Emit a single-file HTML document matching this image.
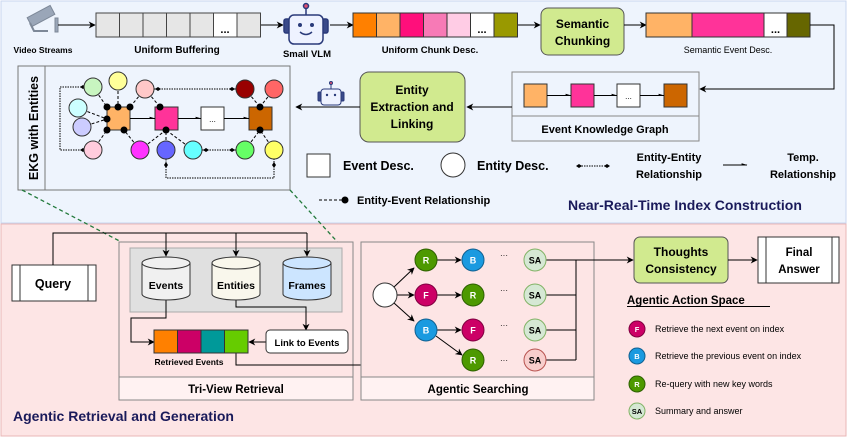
<!DOCTYPE html>
<html><head><meta charset="utf-8"><style>
html,body{margin:0;padding:0;background:#fff}
svg{display:block;font-family:"Liberation Sans",sans-serif}
.b{font-weight:bold}
</style></head><body>
<svg width="847" height="437" viewBox="0 0 847 437" xmlns="http://www.w3.org/2000/svg">
<defs>
<marker id="a" viewBox="0 0 10 10" refX="9" refY="5" markerWidth="7" markerHeight="7" orient="auto"><path d="M0,0 L10,5 L0,10 L3,5 z" fill="#000"/></marker>
<marker id="t" viewBox="0 0 10 10" refX="9" refY="5" markerWidth="6" markerHeight="6" orient="auto"><path d="M0,2 L10,5 L0,5 z" fill="#000"/></marker>
</defs>
<rect x="1" y="1" width="845" height="222" fill="#eef4fd" stroke="#c8d6ef"/>
<rect x="1" y="224" width="845" height="212" fill="#fde5e5" stroke="#e9b7b7"/>

<g fill="#9aa6b8" stroke="#7d8898" stroke-width="1">
<rect x="28" y="11" width="26" height="10" transform="rotate(-28 41 16)"/>
<path d="M30,23 l4,8 l14,0" fill="none" stroke-width="2"/>
<rect x="55" y="18" width="3" height="14"/>
</g>
<line x1="58" y1="25" x2="95" y2="25" stroke="#000" marker-end="url(#a)"/>
<g stroke="#444" fill="#e6e6e6">
<rect x="96" y="13" width="23.5" height="24"/><rect x="119.5" y="13" width="23.5" height="24"/><rect x="143" y="13" width="23.5" height="24"/><rect x="166.5" y="13" width="23.5" height="24"/><rect x="190" y="13" width="23.5" height="24"/><rect x="213.5" y="13" width="23.5" height="24" fill="#fff"/><rect x="237" y="13" width="23.5" height="24"/>
</g>
<text x="225" y="33" font-size="11" class="b" text-anchor="middle">...</text>
<text x="43" y="53" font-size="8.5" class="b" text-anchor="middle">Video Streams</text>
<text x="177" y="53" font-size="10" class="b" text-anchor="middle">Uniform Buffering</text>
<line x1="261" y1="25" x2="283" y2="25" stroke="#000" marker-end="url(#a)"/>
<g stroke="#2a3a7a" stroke-width="1.5">
<line x1="306" y1="7" x2="306" y2="15"/><circle cx="306" cy="6" r="2.5" fill="#e05070"/>
<rect x="284" y="19" width="6" height="14" rx="2" fill="#3a4a8a"/><rect x="322" y="19" width="6" height="14" rx="2" fill="#3a4a8a"/>
<rect x="289" y="15" width="34" height="29" rx="5" fill="#eef2ff"/>
</g>
<circle cx="300" cy="25" r="2" fill="#2a3a7a"/><circle cx="312" cy="25" r="2" fill="#2a3a7a"/>
<path d="M300,32 q6,5 12,0" fill="none" stroke="#2a3a7a" stroke-width="1.5"/>
<text x="307" y="57" font-size="9.5" class="b" text-anchor="middle">Small VLM</text>
<line x1="330" y1="25" x2="353" y2="25" stroke="#000" marker-end="url(#a)"/>
<g stroke="#333">
<rect x="353" y="13" width="23.5" height="24" fill="#ff8000"/><rect x="376.5" y="13" width="23.5" height="24" fill="#ffb366"/><rect x="400" y="13" width="23.5" height="24" fill="#ff0f7b"/><rect x="423.5" y="13" width="23.5" height="24" fill="#f77ab6"/><rect x="447" y="13" width="23.5" height="24" fill="#ffcce5"/><rect x="470.5" y="13" width="23.5" height="24" fill="#fff"/><rect x="494" y="13" width="23.5" height="24" fill="#999900"/>
</g>
<text x="482" y="33" font-size="11" class="b" text-anchor="middle">...</text>
<text x="430" y="53" font-size="9.5" class="b" text-anchor="middle">Uniform Chunk Desc.</text>
<line x1="518" y1="25" x2="540" y2="25" stroke="#000" marker-end="url(#a)"/>
<rect x="541" y="8" width="83" height="47" rx="7" fill="#d1ea8f" stroke="#555"/>
<text x="582.5" y="28" font-size="12" class="b" text-anchor="middle">Semantic</text>
<text x="582.5" y="45" font-size="12" class="b" text-anchor="middle">Chunking</text>
<line x1="624" y1="25" x2="646" y2="25" stroke="#000" marker-end="url(#a)"/>
<g stroke="#333">
<rect x="646" y="13" width="46" height="24" fill="#ffb366"/><rect x="692" y="13" width="72" height="24" fill="#ff3399"/><rect x="764" y="13" width="23" height="24" fill="#fff"/><rect x="787" y="13" width="23" height="24" fill="#666600"/>
</g>
<text x="775.5" y="33" font-size="11" class="b" text-anchor="middle">...</text>
<text x="728" y="53" font-size="9" text-anchor="middle">Semantic Event Desc.</text>
<polyline points="810,25 834,25 834,89 700,89" fill="none" stroke="#000" marker-end="url(#a)"/>
<rect x="512" y="72" width="187" height="69" fill="#eef4fd" stroke="#888"/>
<line x1="512" y1="116" x2="699" y2="116" stroke="#888"/>
<g stroke="#333"><rect x="524" y="84" width="23" height="23" fill="#ffb366"/><rect x="571" y="84" width="23" height="23" fill="#ff3399"/><rect x="617" y="84" width="23" height="23" fill="#fff"/><rect x="664" y="84" width="23" height="23" fill="#cc6600"/></g>
<g stroke="#000" marker-end="url(#t)"><line x1="547" y1="95.5" x2="571" y2="95.5"/><line x1="594" y1="95.5" x2="617" y2="95.5"/><line x1="640" y1="95.5" x2="664" y2="95.5"/></g>
<text x="628.5" y="99" font-size="8" text-anchor="middle">...</text>
<text x="605" y="133" font-size="11" class="b" text-anchor="middle">Event Knowledge Graph</text>
<line x1="512" y1="107" x2="467" y2="107" stroke="#000" marker-end="url(#a)"/>
<rect x="360" y="72" width="105" height="70" rx="9" fill="#d1ea8f" stroke="#555"/>
<text x="412" y="94" font-size="12" class="b" text-anchor="middle">Entity</text>
<text x="412" y="111" font-size="12" class="b" text-anchor="middle">Extraction and</text>
<text x="412" y="128" font-size="12" class="b" text-anchor="middle">Linking</text>
<g stroke="#2a3a7a" stroke-width="1">
<line x1="331" y1="84" x2="331" y2="89"/><circle cx="331" cy="83" r="1.5" fill="#e05070"/>
<rect x="318" y="92" width="4" height="9" rx="1" fill="#3a4a8a"/><rect x="340" y="92" width="4" height="9" rx="1" fill="#3a4a8a"/>
<rect x="321" y="89" width="20" height="16" rx="3" fill="#eef2ff"/>
</g>
<circle cx="327" cy="95" r="1.2" fill="#2a3a7a"/><circle cx="335" cy="95" r="1.2" fill="#2a3a7a"/>
<line x1="360" y1="107" x2="296" y2="107" stroke="#000" marker-end="url(#a)"/>
<rect x="18" y="66" width="272" height="124" fill="#eef4fd" stroke="#777"/>
<line x1="45" y1="66" x2="45" y2="190" stroke="#777"/>
<text transform="translate(38,128) rotate(-90)" font-size="12.5" class="b" text-anchor="middle">EKG with Entities</text>
<g stroke="#000" stroke-dasharray="3,2" fill="none" stroke-width="1">
<line x1="93" y1="87" x2="107" y2="107"/><line x1="118" y1="81" x2="118" y2="107"/><line x1="145" y1="89" x2="130" y2="107"/>
<line x1="78" y1="108" x2="107" y2="119"/><line x1="82" y1="127" x2="107" y2="119"/><line x1="93" y1="150" x2="107" y2="130"/>
<line x1="140" y1="150" x2="124" y2="130"/><line x1="145" y1="89" x2="160" y2="107"/>
<line x1="166" y1="150" x2="166" y2="130"/><line x1="193" y1="150" x2="166" y2="130"/><line x1="140" y1="150" x2="166" y2="130"/>
<line x1="245" y1="89" x2="260" y2="107"/><line x1="274" y1="89" x2="260" y2="107"/>
<line x1="245" y1="150" x2="260" y2="130"/><line x1="274" y1="150" x2="260" y2="130"/>
</g>
<g stroke="#000" stroke-dasharray="1.5,1" fill="none">
<polyline points="84,87 60,87 60,150 84,150" />
<line x1="154" y1="89" x2="236" y2="89"/><line x1="202" y1="150" x2="236" y2="150"/>
<polyline points="166,159 166,178 274,178 274,159"/>
</g>
<g fill="#000">
<path d="M80,87 l3,-2 l3,2 l-3,2z"/><path d="M80,150 l3,-2 l3,2 l-3,2z"/>
<path d="M155,89 l3,-2 l3,2 l-3,2z"/><path d="M229,89 l3,-2 l3,2 l-3,2z"/>
<path d="M203,150 l3,-2 l3,2 l-3,2z"/><path d="M229,150 l3,-2 l3,2 l-3,2z"/>
<path d="M166,162 l-2,3 l2,3 l2,-3z"/><path d="M274,162 l-2,3 l2,3 l2,-3z"/>
</g>
<g stroke="#333">
<rect x="107" y="107" width="23" height="23" fill="#ffb366"/><rect x="155" y="107" width="23" height="23" fill="#ff3399"/><rect x="201" y="107" width="23" height="23" fill="#fff"/><rect x="249" y="107" width="23" height="23" fill="#cc6600"/>
</g>
<g stroke="#000" marker-end="url(#t)"><line x1="130" y1="118.5" x2="155" y2="118.5"/><line x1="178" y1="118.5" x2="201" y2="118.5"/><line x1="224" y1="118.5" x2="249" y2="118.5"/></g>
<text x="212.5" y="122" font-size="8" text-anchor="middle">...</text>
<g fill="#000">
<circle cx="107" cy="107" r="3.5"/><circle cx="118" cy="107" r="3.5"/><circle cx="130" cy="107" r="3.5"/><circle cx="107" cy="119" r="3.5"/><circle cx="107" cy="130" r="3.5"/><circle cx="124" cy="130" r="3.5"/>
<circle cx="160" cy="107" r="3.5"/><circle cx="166" cy="130" r="3.5"/><circle cx="260" cy="107" r="3.5"/><circle cx="260" cy="130" r="3.5"/>
</g>
<g stroke="#333">
<circle cx="93" cy="87" r="9" fill="#c8f5c0"/><circle cx="118" cy="81" r="9" fill="#ffff99"/><circle cx="145" cy="89" r="9" fill="#ffc8c8"/>
<circle cx="245" cy="89" r="9" fill="#990000"/><circle cx="274" cy="89" r="9" fill="#ff6666"/>
<circle cx="78" cy="108" r="9" fill="#ccffff"/><circle cx="82" cy="127" r="9" fill="#ccccff"/><circle cx="93" cy="150" r="9" fill="#ffccdd"/>
<circle cx="140" cy="150" r="9" fill="#ff33ff"/><circle cx="166" cy="150" r="9" fill="#6666ff"/><circle cx="193" cy="150" r="9" fill="#66ffff"/>
<circle cx="245" cy="150" r="9" fill="#66ff66"/><circle cx="274" cy="150" r="9" fill="#ffff66"/>
</g>
<rect x="307" y="154" width="23" height="23" fill="#fff" stroke="#333"/>
<text x="343" y="170" font-size="12.5" class="b">Event Desc.</text>
<circle cx="453" cy="165" r="12" fill="#fff" stroke="#333"/>
<text x="477" y="170" font-size="12.5" class="b">Entity Desc.</text>
<line x1="579" y1="166" x2="607" y2="166" stroke="#000" stroke-dasharray="1.5,1"/>
<path d="M576,166 l3,-2 l3,2 l-3,2z M604,166 l3,-2 l3,2 l-3,2z"/>
<text x="669" y="161" font-size="11" class="b" text-anchor="middle">Entity-Entity</text>
<text x="669" y="178" font-size="11" class="b" text-anchor="middle">Relationship</text>
<line x1="723" y1="165" x2="747" y2="165" stroke="#000" marker-end="url(#t)"/>
<text x="803" y="161" font-size="11" class="b" text-anchor="middle">Temp.</text>
<text x="803" y="178" font-size="11" class="b" text-anchor="middle">Relationship</text>
<line x1="319" y1="200" x2="342" y2="200" stroke="#000" stroke-dasharray="3,2"/><circle cx="345" cy="200" r="3.5"/>
<text x="357" y="204" font-size="11" class="b">Entity-Event Relationship</text>
<text x="568" y="210" font-size="14" class="b" fill="#1a1a5a">Near-Real-Time Index Construction</text>

<line x1="22" y1="190" x2="131" y2="247" stroke="#237a3c" stroke-width="1.3" stroke-dasharray="4,3"/>
<line x1="290" y1="190" x2="342" y2="247" stroke="#237a3c" stroke-width="1.3" stroke-dasharray="4,3"/>

<rect x="12" y="265" width="84" height="36" fill="#fff" stroke="#333"/>
<line x1="20" y1="265" x2="20" y2="301" stroke="#333"/><line x1="88" y1="265" x2="88" y2="301" stroke="#333"/>
<text x="53" y="288" font-size="12.5" class="b" text-anchor="middle">Query</text>
<polyline points="53,265 53,233 307,233" fill="none" stroke="#000"/>
<rect x="119" y="242" width="234" height="158" fill="#fde5e5" stroke="#888"/>
<rect x="119" y="377" width="234" height="23" fill="#fff2f2" stroke="#888"/>
<text x="236" y="393" font-size="11.5" class="b" text-anchor="middle">Tri-View Retrieval</text>
<rect x="130" y="248" width="212" height="64" fill="#e0e0e0" stroke="#aaa"/>
<g stroke="#000" fill="none" marker-end="url(#a)">
<line x1="166" y1="233" x2="166" y2="256"/><line x1="236" y1="233" x2="236" y2="256"/><line x1="307" y1="233" x2="307" y2="256"/>
<polyline points="166,300 166,318 131,318 131,342 154,342"/>
<polyline points="236,300 236,307 306,307 306,330"/>
<line x1="266" y1="342" x2="249" y2="342"/>
<polyline points="236,353 236,365 385,365 385,308"/>
</g>
<g stroke="#333">
<path d="M142,263 v31 a24,6 0 0 0 48,0 v-31" fill="#f0f0f0"/><ellipse cx="166" cy="263" rx="24" ry="6" fill="#f0f0f0"/>
<path d="M212,263 v31 a24,6 0 0 0 48,0 v-31" fill="#f9f7ec"/><ellipse cx="236" cy="263" rx="24" ry="6" fill="#f9f7ec"/>
<path d="M283,263 v31 a24,6 0 0 0 48,0 v-31" fill="#cce5ff"/><ellipse cx="307" cy="263" rx="24" ry="6" fill="#cce5ff"/>
</g>
<text x="166" y="289" font-size="10.5" class="b" text-anchor="middle">Events</text>
<text x="236" y="289" font-size="10.5" class="b" text-anchor="middle">Entities</text>
<text x="307" y="289" font-size="10.5" class="b" text-anchor="middle">Frames</text>
<g stroke="#333"><rect x="154" y="330" width="23.5" height="23" fill="#ff8000"/><rect x="177.5" y="330" width="23.5" height="23" fill="#cc0066"/><rect x="201" y="330" width="23.5" height="23" fill="#009999"/><rect x="224.5" y="330" width="23.5" height="23" fill="#66cc00"/></g>
<text x="189" y="365" font-size="8.5" class="b" text-anchor="middle">Retrieved Events</text>
<rect x="266" y="330" width="82" height="23" rx="4" fill="#fff" stroke="#333"/>
<text x="307" y="346" font-size="9.5" class="b" text-anchor="middle">Link to Events</text>

<rect x="361" y="242" width="233" height="158" fill="#fde5e5" stroke="#888"/>
<rect x="361" y="377" width="233" height="23" fill="#fff2f2" stroke="#888"/>
<text x="478" y="393" font-size="11.5" class="b" text-anchor="middle">Agentic Searching</text>
<g stroke="#000" fill="none" marker-end="url(#a)">
<line x1="394" y1="287" x2="414" y2="268"/><line x1="397" y1="295" x2="414" y2="295"/><line x1="394" y1="303" x2="414" y2="321"/>
<line x1="437" y1="260" x2="461" y2="260"/><line x1="437" y1="295" x2="461" y2="295"/><line x1="437" y1="330" x2="461" y2="330"/><line x1="436" y1="336" x2="462" y2="355"/>
</g>
<g stroke="#000" fill="none">
<line x1="546" y1="260" x2="576" y2="260"/><line x1="546" y1="295" x2="576" y2="295"/><line x1="546" y1="330" x2="576" y2="330"/><line x1="546" y1="360" x2="576" y2="360"/>
<line x1="576" y1="260" x2="576" y2="360"/>
</g>
<line x1="576" y1="260" x2="633" y2="260" stroke="#000" marker-end="url(#a)"/>
<circle cx="385" cy="295" r="12" fill="#fff" stroke="#333"/>
<g font-size="9" class="b" text-anchor="middle" fill="#fff">
<circle cx="426" cy="260" r="11" fill="#4d9900" stroke="#2d6000"/><text x="426" y="263.5">R</text>
<circle cx="473" cy="260" r="11" fill="#1a9ae0" stroke="#106090"/><text x="473" y="263.5">B</text>
<circle cx="426" cy="295" r="11" fill="#cc0066" stroke="#800040"/><text x="426" y="298.5">F</text>
<circle cx="473" cy="295" r="11" fill="#4d9900" stroke="#2d6000"/><text x="473" y="298.5">R</text>
<circle cx="426" cy="330" r="11" fill="#1a9ae0" stroke="#106090"/><text x="426" y="333.5">B</text>
<circle cx="473" cy="330" r="11" fill="#cc0066" stroke="#800040"/><text x="473" y="333.5">F</text>
<circle cx="473" cy="360" r="11" fill="#4d9900" stroke="#2d6000"/><text x="473" y="363.5">R</text>
</g>
<g font-size="9" class="b" text-anchor="middle" fill="#000">
<circle cx="535" cy="260" r="11" fill="#d5e8d4" stroke="#82b366"/><text x="535" y="263.5">SA</text>
<circle cx="535" cy="295" r="11" fill="#d5e8d4" stroke="#82b366"/><text x="535" y="298.5">SA</text>
<circle cx="535" cy="330" r="11" fill="#d5e8d4" stroke="#82b366"/><text x="535" y="333.5">SA</text>
<circle cx="535" cy="360" r="11" fill="#f8cecc" stroke="#b85450"/><text x="535" y="363.5">SA</text>
</g>
<g font-size="8" text-anchor="middle"><text x="504" y="258">···</text><text x="504" y="293">···</text><text x="504" y="328">···</text><text x="504" y="363">···</text></g>

<rect x="634" y="237" width="94" height="46" rx="6" fill="#d1ea8f" stroke="#555"/>
<text x="681" y="256" font-size="12" class="b" text-anchor="middle">Thoughts</text>
<text x="681" y="273" font-size="12" class="b" text-anchor="middle">Consistency</text>
<line x1="728" y1="260" x2="757" y2="260" stroke="#000" marker-end="url(#a)"/>
<rect x="758" y="237" width="81" height="46" fill="#fff" stroke="#333"/>
<line x1="766" y1="237" x2="766" y2="283" stroke="#333"/><line x1="832" y1="237" x2="832" y2="283" stroke="#333"/>
<text x="799" y="256" font-size="11.5" class="b" text-anchor="middle">Final</text>
<text x="799" y="273" font-size="11.5" class="b" text-anchor="middle">Answer</text>
<text x="627" y="304" font-size="11.5" class="b">Agentic Action Space</text>
<line x1="627" y1="306.5" x2="770" y2="306.5" stroke="#000"/>
<g font-size="7.5" class="b" text-anchor="middle">
<circle cx="637" cy="329" r="8" fill="#cc0066" stroke="#800040"/><text x="637" y="332" fill="#fff">F</text>
<circle cx="637" cy="356" r="8" fill="#1a9ae0" stroke="#106090"/><text x="637" y="359" fill="#fff">B</text>
<circle cx="637" cy="384" r="8" fill="#4d9900" stroke="#2d6000"/><text x="637" y="387" fill="#fff">R</text>
<circle cx="637" cy="411" r="8" fill="#d5e8d4" stroke="#82b366"/><text x="637" y="414" fill="#000">SA</text>
</g>
<g font-size="9"><text x="655" y="332">Retrieve the next event on index</text><text x="655" y="359">Retrieve the previous event on index</text><text x="655" y="387">Re-query with new key words</text><text x="655" y="414">Summary and answer</text></g>
<text x="13" y="421" font-size="14" class="b" fill="#1a1a5a">Agentic Retrieval and Generation</text>
</svg>
</body></html>
